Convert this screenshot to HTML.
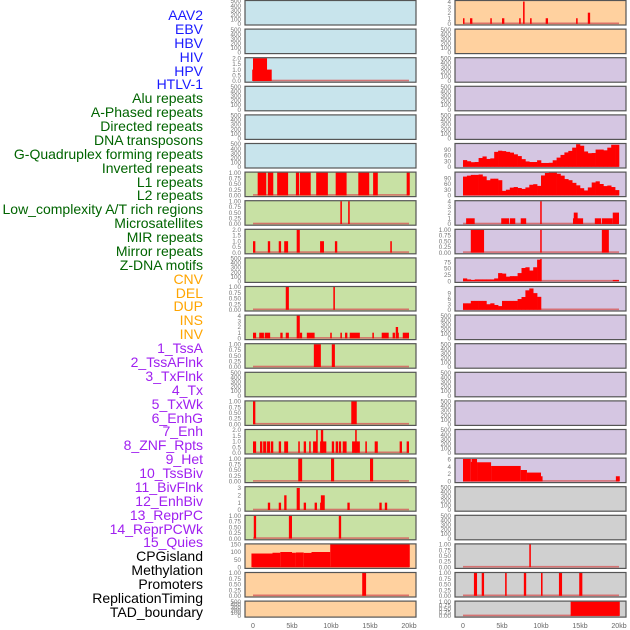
<!DOCTYPE html>
<html><head><meta charset="utf-8">
<style>
html,body{margin:0;padding:0;background:#fff;}
body{width:630px;height:630px;overflow:hidden;position:relative;font-family:"Liberation Sans",sans-serif;}
#labels div{position:absolute;right:427px;font-size:14px;line-height:14px;white-space:nowrap;}
svg{position:absolute;left:0;top:0;}
</style></head><body>
<div id="labels"></div>
<svg id="chart" width="630" height="630"></svg>
<script>
// ---------- labels ----------
const labelNames = ["AAV2","EBV","HBV","HIV","HPV","HTLV-1","Alu repeats","A-Phased repeats","Directed repeats","DNA transposons","G-Quadruplex forming repeats","Inverted repeats","L1 repeats","L2 repeats","Low_complexity A/T rich regions","Microsatellites","MIR repeats","Mirror repeats","Z-DNA motifs","CNV","DEL","DUP","INS","INV","1_TssA","2_TssAFlnk","3_TxFlnk","4_Tx","5_TxWk","6_EnhG","7_Enh","8_ZNF_Rpts","9_Het","10_TssBiv","11_BivFlnk","12_EnhBiv","13_ReprPC","14_ReprPCWk","15_Quies","CPGisland","Methylation","Promoters","ReplicationTiming","TAD_boundary"];
const labelGroups = [6,13,5,15,5];
const groupColors = ["#1a1aff","#006400","#ffa500","#a020f0","#000000"];

// ---------- panel data: [startKb, endKb, value] ----------
const L2 = [[-0.1,2.4,1],[0,1.8,2]];
const L6 = [[0.6,1.7,1],[1.9,2.6,1],[3.1,4.5,1],[5.5,5.9,1],[6.0,7.4,1],[8.1,9.6,1],[10.6,12.0,1],[13.5,14.9,1],[15.4,16.0,1],[19.7,20.1,1]];
const L7 = [[11.2,11.4,1],[12.2,12.4,1]];
const L8 = [[0,0.3,1],[1.9,2.2,1],[3.3,3.6,1],[4.0,4.5,1],[8.6,9.1,1],[10.5,10.8,1],[17.6,17.8,1],[5.6,6.0,2]];
const L10 = [[4.2,4.6,1],[10.3,10.5,1]];
const L11 = [[0,0.4,1],[0.8,1.4,1],[1.5,2.2,1],[3.5,3.8,1],[4.2,4.6,1],[6.0,6.3,1],[6.9,7.9,1],[9.9,10.1,1],[11.2,11.4,1],[11.8,12.1,1],[12.4,13.7,1],[15.3,15.5,1],[16.5,17.4,1],[17.9,18.2,1],[18.3,18.7,1],[19.2,20.0,1],[18.3,18.6,2],[5.6,6.0,4]];
const L12 = [[7.8,8.7,1],[10.1,10.5,1]];
const L14 = [[0,0.3,1],[12.6,13.3,1]];
const L15 = [[0,0.4,1],[0.9,1.2,1],[1.3,1.7,1],[1.8,2.2,1],[2.3,2.6,1],[3.3,3.6,1],[4.0,4.5,1],[5.8,6.0,1],[6.5,6.8,1],[7.2,7.4,1],[7.7,8.2,1],[8.6,9.4,1],[10.1,10.4,1],[10.6,10.9,1],[11.0,11.3,1],[11.5,12.0,1],[12.7,13.7,1],[14.4,14.6,1],[15.6,16.0,1],[18.8,19.1,1],[19.7,20.0,1],[8.1,8.3,2],[8.7,9.0,2],[13.1,13.3,2]];
const L16 = [[5.8,6.3,1],[10.0,10.4,1],[15.0,15.4,1]];
const L17 = [[1.9,2.2,1],[3.3,3.6,1],[6.5,6.8,1],[7.9,8.2,1],[8.6,8.8,1],[12.1,12.4,1],[16.2,16.5,1],[16.9,17.2,1],[4.0,4.3,2],[8.7,9.2,2],[5.6,6.0,3]];
const L18 = [[0.1,0.4,1],[4.6,5.0,1],[11.0,11.3,1]];
const L19 = [[-0.2,2.5,90],[2.5,3.5,95],[3.5,5.0,100],[5.0,5.5,95],[5.5,6.5,97],[6.5,7.5,94],[7.5,9.9,100],[9.9,20.1,150]];
const L20 = [[14.0,14.5,1]];
const R0 = [[0,0.1,1],[0.9,1.2,1],[3.5,3.6,1],[5.0,5.3,1],[7.2,7.4,1],[8.6,8.8,1],[10.6,10.9,1],[14.5,14.7,1],[16.0,16.3,2],[7.7,7.9,4]];
const R8 = [[0.4,1.5,1],[4.9,5.9,1],[6.0,6.7,1],[7.4,8.1,1],[14.1,15.4,1],[16.9,17.7,1],[17.8,19.2,1],[14.2,14.7,2],[19.2,20.0,2],[9.9,10.0,4]];
const R9 = [[1.0,2.7,1],[9.9,10.0,1],[17.8,18.7,1]];
const R10tail = [[9.9,10.0,88],[19.2,20.0,5]];
const R16 = [[0,1.0,6.1],[1.0,1.1,5.3],[1.1,1.8,6.1],[1.8,3.6,5.2],[3.6,7.4,4.2],[7.4,8.2,3.1],[8.2,10.0,2.4],[10.0,10.2,1.4],[19.6,20.1,1.4]];
const R19 = [[8.5,8.7,1]];
const R20 = [[1.4,1.8,1],[2.4,2.7,1],[5.4,5.6,1],[7.8,8.1,1],[10.0,10.2,1],[12.3,12.7,1],[14.9,15.3,1]];
const R21 = [[13.8,20.1,1]];

// ---------- profile data (0.5kb bins from 0kb) ----------
const R6prof = [35,29,24,25,46,54,41,44,78,84,82,78,74,65,56,40,28,25,25,34,20,20,21,34,48,62,75,83,100,118,110,80,71,72,90,90,86,100,115,115];
const R7prof = [99,104,108,108,110,100,80,88,88,80,24,30,41,44,39,34,42,56,59,50,105,118,120,120,114,104,86,80,66,53,38,26,42,68,74,60,49,52,44,28];
const R10prof = [11,7,5,7,7,7,7,7,11,32,30,18,20,20,32,52,55,42,55,85];
const R11prof = [3.5,3.5,4.8,4.8,4.8,4.8,3,3.5,2.6,2,4.8,4.8,4.8,4.8,5.8,6.9,10.5,11.5,9,7];

// ---------- tick label sets ----------
const T500 = ["0","100","200","300","400","500"];
const T1 = ["0.00","0.25","0.50","0.75","1.00"];
const T2 = ["0.0","0.5","1.0","1.5","2.0"];
const T4 = ["0","1","2","3","4"];
const T3 = ["0","1","2","3"];
const T150 = ["0","50","100","150"];
const T90 = ["0","30","60","90"];
const T75 = ["0","25","50","75"];
const T9 = ["0","3","6","9"];
const T6 = ["0","2","4","6"];
const xTicks = [0,5,10,15,20];
const xTickLabels = ["0","5kb","10kb","15kb","20kb"];

const BLUE="#c8e4ec",GREEN="#c8e1a4",ORANGE="#ffd19f",PURPLE="#d5c6e2",GRAY="#d0d0d0";
const leftPanels = [
 [BLUE,T500,500,null],[BLUE,T500,500,null],[BLUE,T2,2,L2],[BLUE,T500,500,null],[BLUE,T500,500,null],[BLUE,T500,500,null],
 [GREEN,T1,1,L6],[GREEN,T1,1,L7],[GREEN,T2,2,L8],[GREEN,T500,500,null],[GREEN,T1,1,L10],[GREEN,T4,4,L11],[GREEN,T1,1,L12],
 [GREEN,T500,500,null],[GREEN,T1,1,L14],[GREEN,T2,2,L15],[GREEN,T1,1,L16],[GREEN,T3,3.1,L17],[GREEN,T1,1,L18],
 [ORANGE,T150,150,L19],[ORANGE,T1,1,L20],[ORANGE,T500,500,null]
];
const rightPanels = [
 [ORANGE,T4,4.1,R0],[ORANGE,T500,500,null],[PURPLE,T500,500,null],[PURPLE,T500,500,null],[PURPLE,T500,500,null],
 [PURPLE,T90,119,[],R6prof],[PURPLE,T90,120,[],R7prof],[PURPLE,T4,4,R8],[PURPLE,T1,1,R9],[PURPLE,T75,90,R10tail,R10prof],[PURPLE,T9,12.3,[],R11prof],
 [PURPLE,T500,500,null],[PURPLE,T500,500,null],[PURPLE,T500,500,null],[PURPLE,T500,500,null],[PURPLE,T500,500,null],[PURPLE,T6,6.2,R16],
 [GRAY,T500,500,null],[GRAY,T500,500,null],[GRAY,T1,1,R19],[GRAY,T1,1,R20],[GRAY,T1,1,R21]
];

// ---------- render labels ----------
const lab = document.getElementById('labels');
let gi=0, cnt=0;
labelNames.forEach((n,i)=>{
  const d=document.createElement('div');
  d.textContent=n;
  
  
  d.style.top=(8+i*13.88)+'px';
  d.style.color=groupColors[gi];
  lab.appendChild(d);
  cnt++; if(cnt>=labelGroups[gi]){gi++;cnt=0;}
});

// ---------- render panels ----------
const svg=document.getElementById('chart');
const NS="http://www.w3.org/2000/svg";
function el(t,a,p){const e=document.createElementNS(NS,t);for(const k in a)e.setAttribute(k,a[k]);(p||svg).appendChild(e);return e;}
function rowTop(i){return 0.5+i*28.6;}
function rowH(i){return i===21?16:24.5;}
function drawColumn(panels,px,x0kb){
  const xs=kb=>x0kb+kb*7.8;
  panels.forEach((p,i)=>{
    const [bg,ticks,ymax,segs,prof]=p;
    const top=rowTop(i),h=rowH(i);
    const g=el('g',{});
    
    
    el('rect',{x:px,y:top,width:171,height:h,fill:bg,stroke:'none'},g);
    const y0=top+h-1.2, y1=top+0.5;
    const ys=v=>y0-(v/ymax)*(y0-y1);
    const tstep=(parseFloat(ticks[ticks.length-1]))/(ticks.length-1);
    ticks.forEach((t,k)=>{
      const tx=el('text',{x:px-4,y:ys(k*tstep)+2.2,'font-size':'6.3','text-anchor':'end',fill:'#777'},g);
      tx.textContent=t;
      
      
    });
    if(segs!==null){
      const bl=el('rect',{x:xs(0),y:y0-1.3,width:xs(20)-xs(0),height:1.6,fill:'#d65a5a',opacity:0.8},g);
      
      
      if(prof){
        prof.forEach((v,k)=>{
          const r=el('rect',{x:xs(k*0.5),y:ys(v),width:xs(0.5)-xs(0)+0.3,height:y0-ys(v),fill:'#ff0000'},g);
          
          
        });
      }
      segs.forEach(s=>{
        const w=Math.max(1.5,xs(s[1])-xs(s[0]));
        const r=el('rect',{x:xs(s[0]),y:ys(s[2]),width:w,height:y0-ys(s[2]),fill:'#ff0000'},g);
        
        
      });
    }
    el('rect',{x:px,y:top,width:171,height:h,fill:'none',stroke:'#555',"stroke-width":1.2},g);
  });
  xTicks.forEach((t,k)=>{
    const tx=el('text',{x:xs(t),y:628,'font-size':'7','text-anchor':'middle',fill:'#666'});
    tx.textContent=xTickLabels[k];
    
    
  });
}
drawColumn(leftPanels,245,253);
drawColumn(rightPanels,455,463);
</script>
</body></html>
